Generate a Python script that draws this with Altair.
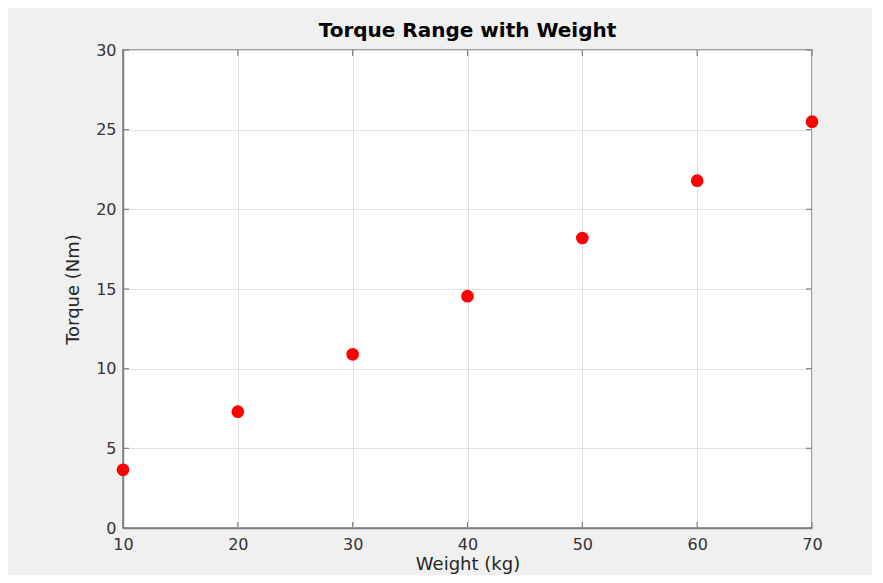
import altair as alt
import pandas as pd

weights = [10, 20, 30, 40, 50, 60, 70]
torques = [3.65, 7.3, 10.9, 14.55, 18.2, 21.8, 25.5]
x_ticks = [10, 20, 30, 40, 50, 60, 70]
y_ticks = [0, 5, 10, 15, 20, 25, 30]

df = pd.DataFrame({"Weight": weights, "Torque": torques})
xt = pd.DataFrame({"v": x_ticks})
yt = pd.DataFrame({"v": y_ticks})

W, H = 689, 478
FONT = "DejaVu Sans"
xs = alt.Scale(domain=[10, 70], nice=False, zero=False)
ys = alt.Scale(domain=[0, 30], nice=False)

axis_common = dict(
    labelFont=FONT, titleFont=FONT, labelFontSize=16, titleFontSize=18,
    labelColor="#333333", titleColor="#262626", titleFontWeight="normal",
    domainColor="#808080", domainWidth=1.5, ticks=False,
    gridColor="#e0e0e0", gridWidth=1, labelFlush=False,
)

points = alt.Chart(df).mark_point(
    shape="circle", filled=True, size=160, color="#ff0000", opacity=1
).encode(
    x=alt.X("Weight:Q", scale=xs, axis=alt.Axis(values=x_ticks, title="Weight (kg)",
                                                   labelPadding=8, titlePadding=3, **axis_common)),
    y=alt.Y("Torque:Q", scale=ys, axis=alt.Axis(values=y_ticks, title="Torque (Nm)",
                                                   labelPadding=7, titlePadding=13, **axis_common)),
)

xticks_bottom = alt.Chart(xt).mark_rule(color="#808080", strokeWidth=1.2).encode(
    x=alt.X("v:Q", scale=xs), y=alt.value(H), y2=alt.value(H - 6))
xticks_top = alt.Chart(xt).mark_rule(color="#808080", strokeWidth=1.2).encode(
    x=alt.X("v:Q", scale=xs), y=alt.value(0), y2=alt.value(6))
yticks_left = alt.Chart(yt).mark_rule(color="#808080", strokeWidth=1.2).encode(
    y=alt.Y("v:Q", scale=ys), x=alt.value(0), x2=alt.value(6))
yticks_right = alt.Chart(yt).mark_rule(color="#808080", strokeWidth=1.2).encode(
    y=alt.Y("v:Q", scale=ys), x=alt.value(W), x2=alt.value(W - 6))

chart = alt.layer(xticks_bottom, xticks_top, yticks_left, yticks_right, points).properties(
    width=W, height=H,
    background="#f0f0f0",
    padding={"left": 115, "top": 42, "right": 60, "bottom": 47},
    autosize=alt.AutoSizeParams(type="none"),
    title=alt.TitleParams("Torque Range with Weight", font=FONT, fontSize=20,
                          fontWeight="bold", color="#000000", offset=1),
).configure_view(
    fill="white", stroke="#808080", strokeWidth=1.5
)

chart.save("out.html", embed_options={"renderer": "svg", "actions": False})
